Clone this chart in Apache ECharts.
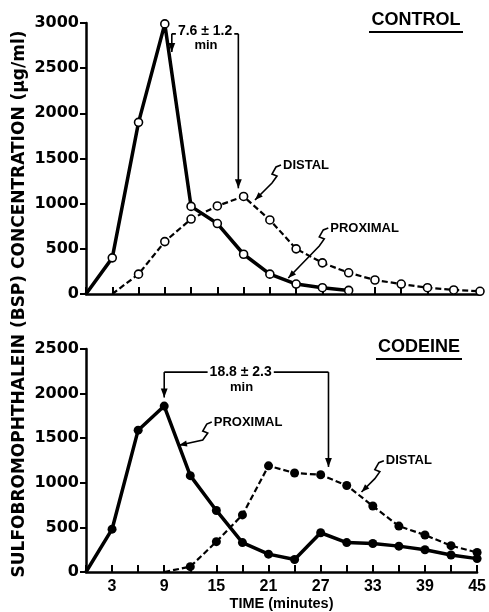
<!DOCTYPE html>
<html>
<head>
<meta charset="utf-8">
<script src="https://cdn.jsdelivr.net/npm/echarts@6/dist/echarts.min.js"></script>
<style>
  html, body { margin: 0; background: #fff; }
  #chart { width: 489px; height: 612px; }
</style>
</head>
<body>
<div id="chart"></div>
<script>
// time points (minutes)
const timeMin = [0, 3, 6, 9, 12, 15, 18, 21, 24, 27, 30, 33, 36, 39, 42, 45];
const xTicks = [3, 9, 15, 21, 27, 33, 39, 45];

// BSP concentration (ug/ml)
const controlProximal = [0, 400, 1900, 2990, 970, 780, 440, 220, 110, 70, 40, null, null, null, null, null];
const controlDistal = [null, 0, 220, 580, 830, 975, 1080, 820, 500, 345, 235, 155, 110, 70, 45, 30];
const codeineProximal = [0, 480, 1590, 1860, 1080, 690, 330, 200, 140, 440, 330, 320, 290, 250, 190, 150];
const codeineDistal = [null, null, null, 0, 60, 340, 640, 1190, 1110, 1090, 970, 740, 515, 415, 295, 220];

const INK = '#000';
const pairs = (vals) => timeMin.map((t, i) => [t, vals[i]]).filter(p => p[1] !== null);
const noDotAtZero = (v) => (v[1] === 0 ? 'none' : 'circle');

function xAxisFor(grid, showLabels) {
  return {
    gridIndex: grid,
    type: 'value',
    min: 0,
    max: 45,
    interval: 3,
    axisLine: { lineStyle: { color: INK, width: 2.5 } },
    axisTick: { inside: true, length: 7, lineStyle: { color: INK, width: 2 } },
    splitLine: { show: false },
    axisLabel: {
      show: showLabels,
      margin: 7,
      color: INK,
      fontFamily: 'Liberation Sans',
      fontWeight: 'bold',
      fontSize: 16,
      formatter: (v) => (xTicks.includes(v) ? String(v) : '')
    },
    name: showLabels ? 'TIME (minutes)' : '',
    nameLocation: 'middle',
    nameGap: 24,
    nameTextStyle: { color: INK, fontFamily: 'Liberation Sans', fontWeight: 'bold', fontSize: 14.5 }
  };
}

function yAxisFor(grid, max) {
  return {
    gridIndex: grid,
    type: 'value',
    min: 0,
    max: max,
    interval: 500,
    axisLine: { show: true, lineStyle: { color: INK, width: 2.5 } },
    axisTick: { show: true, length: 6, lineStyle: { color: INK, width: 2 } },
    splitLine: { show: false },
    axisLabel: {
      margin: 7,
      color: INK,
      fontFamily: 'DejaVu Sans',
      fontWeight: 'bold',
      fontSize: 16,
      formatter: (v) => String(v)
    }
  };
}

function lineSeries(grid, vals, dashed, filled) {
  return {
    type: 'line',
    xAxisIndex: grid,
    yAxisIndex: grid,
    data: pairs(vals),
    symbol: noDotAtZero,
    symbolSize: filled ? 9 : 8,
    showAllSymbol: true,
    lineStyle: dashed
      ? { color: INK, width: 2.2, type: [6, 3] }
      : { color: INK, width: 3.5 },
    itemStyle: filled
      ? { color: INK, borderColor: INK, borderWidth: 0 }
      : { color: '#fff', borderColor: INK, borderWidth: 1.6 },
    z: dashed ? 3 : 4,
    animation: false
  };
}

const option = {
  backgroundColor: '#fff',
  animation: false,
  grid: [
    { left: 86, right: 9, top: 23, height: 271 },
    { left: 86, right: 9, top: 349, height: 225 }
  ],
  xAxis: [xAxisFor(0, false), xAxisFor(1, true)],
  yAxis: [yAxisFor(0, 3000), yAxisFor(1, 2500)],
  series: [
    lineSeries(0, controlProximal, false, false),
    lineSeries(0, controlDistal, true, false),
    lineSeries(1, codeineProximal, false, true),
    lineSeries(1, codeineDistal, true, true)
  ]
};

const chart = echarts.init(document.getElementById('chart'), null, { renderer: 'canvas' });
chart.setOption(option);

// ---- annotations (positions in data units of each panel) ----
const px = (g, p) => chart.convertToPixel({ gridIndex: g }, p);

function arrowHead(tip, from, size) {
  const dx = tip[0] - from[0], dy = tip[1] - from[1];
  const len = Math.hypot(dx, dy) || 1;
  const ux = dx / len, uy = dy / len;
  const bx = tip[0] - ux * size, by = tip[1] - uy * size;
  const w = size * 0.38;
  return {
    type: 'polygon',
    shape: { points: [tip, [bx - uy * w, by + ux * w], [bx + uy * w, by - ux * w]] },
    style: { fill: INK },
    z: 20
  };
}
const seg = (a, b, w) => ({
  type: 'line', shape: { x1: a[0], y1: a[1], x2: b[0], y2: b[1] },
  style: { stroke: INK, lineWidth: w }, z: 20
});
const txt = (p, s, font, extra) => ({
  type: 'text', x: p[0], y: p[1], z: 30,
  style: Object.assign({
    text: s, font: font, fill: INK,
    textAlign: 'center', textVerticalAlign: 'middle', align: 'center', verticalAlign: 'middle'
  }, extra || {})
});

const lagNotes = [
  { grid: 0, text: '7.6 \u00b1 1.2', leftX: 9.8, leftTip: 2680, rightX: 17.4, rightTip: 1170, topY: 2880, at: [13.6, 2905], sub: [13.7, 2757] },
  { grid: 1, text: '18.8 \u00b1 2.3', leftX: 9.0, leftTip: 1956, rightX: 27.9, rightTip: 1178, topY: 2241, at: [17.8, 2244], sub: [17.9, 2072] }
];
const pointers = [
  { grid: 0, text: 'DISTAL', at: [22.5, 1428], tip: [19.3, 1041] },
  { grid: 0, text: 'PROXIMAL', at: [27.9, 731], tip: [23.1, 177] },
  { grid: 1, text: 'PROXIMAL', at: [14.7, 1681], tip: [10.7, 1422] },
  { grid: 1, text: 'DISTAL', at: [34.5, 1248], tip: [31.7, 897] }
];

const graphics = [];
const labelFont = 'bold 13px "Liberation Sans"';

lagNotes.forEach(n => {
  const lt = px(n.grid, [n.leftX, n.topY]);
  const lb = px(n.grid, [n.leftX, n.leftTip]);
  const rt = px(n.grid, [n.rightX, n.topY]);
  const rb = px(n.grid, [n.rightX, n.rightTip]);
  graphics.push(seg(lt, rt, 1.6));
  graphics.push(seg(lt, lb, 1.6));
  graphics.push(seg(rt, rb, 1.6));
  graphics.push(arrowHead(lb, lt, 9));
  graphics.push(arrowHead(rb, rt, 9));
  graphics.push(txt(px(n.grid, n.at), n.text, 'bold 14px "Liberation Sans"',
    { backgroundColor: '#fff', padding: [0, 2] }));
  graphics.push(txt(px(n.grid, n.sub), 'min', 'bold 13px "Liberation Sans"'));
});

pointers.forEach(p => {
  const a = px(p.grid, p.at);
  const tip = px(p.grid, p.tip);
  const o = [a[0] - 2, a[1]];
  const squiggle = [o, [o[0] - 5, o[1] + 2], [o[0] - 9, o[1] + 9], [o[0] - 4, o[1] + 11], [o[0] - 9, o[1] + 18]];
  const last = squiggle[squiggle.length - 1];
  graphics.push({
    type: 'polyline', shape: { points: squiggle.concat([tip]) },
    style: { stroke: INK, lineWidth: 1.6, fill: null }, z: 20
  });
  graphics.push(arrowHead(tip, last, 8));
  graphics.push(txt([a[0], a[1]], p.text, labelFont, { textAlign: 'left', align: 'left' }));
});

// panel titles with underline
[
  { text: 'CONTROL', x: 416, y: 20, u: 32, w: 94 },
  { text: 'CODEINE', x: 419, y: 347, u: 359, w: 86 }
].forEach(t => {
  graphics.push(txt([t.x, t.y], t.text, 'bold 18px "Liberation Sans"'));
  graphics.push(seg([t.x - t.w / 2, t.u], [t.x + t.w / 2, t.u], 2));
});

// shared y-axis title
graphics.push({
  type: 'text', x: 20, y: 304, rotation: Math.PI / 2, z: 30,
  style: {
    text: 'SULFOBROMOPHTHALEIN (BSP) CONCENTRATION (\u03bcg/ml)',
    font: 'bold 17px "DejaVu Sans"', fill: INK,
    textAlign: 'center', textVerticalAlign: 'middle', align: 'center', verticalAlign: 'middle'
  }
});

chart.setOption({ graphic: { elements: graphics } });
</script>
</body>
</html>
